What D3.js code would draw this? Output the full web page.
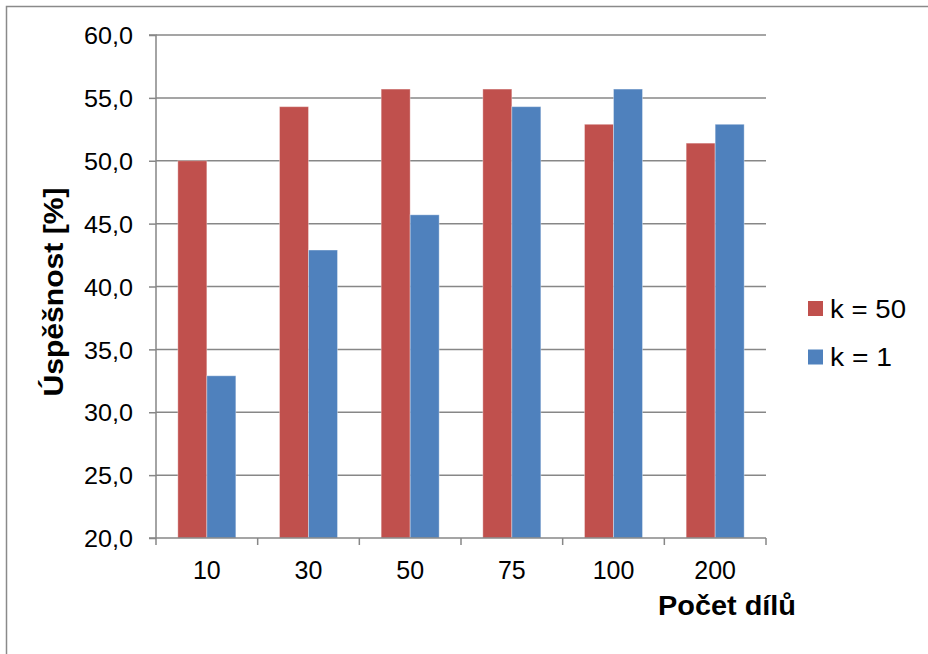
<!DOCTYPE html>
<html><head><meta charset="utf-8">
<script src="https://cdn.jsdelivr.net/npm/d3@7"></script>
<style>body{margin:0;background:#fff;} text{font-family:Arial,"Liberation Sans",sans-serif;fill:#000;}</style>
</head><body>
<script>
const categories = ["10","30","50","75","100","200"];
const seriesNames = ["k = 50","k = 1"];
const k50 = [50.0, 54.3, 55.7, 55.7, 52.9, 51.4];
const k1 = [32.9, 42.9, 45.7, 54.3, 55.7, 52.9];
const yTicks = [20,25,30,35,40,45,50,55,60];
const colors = ["#C0504D","#4F81BD"];
const seriesValues = [k50, k1];

const W=928,H=654;
const svg=d3.select("body").append("svg").attr("width",W).attr("height",H);
svg.append("rect").attr("width",W).attr("height",H).attr("fill","#fff");
svg.append("path").attr("d","M6.5,"+H+"V6.5H"+W).attr("fill","none").attr("stroke","#8a8a8a").attr("stroke-width",1.5);

const L=156,R=766,T=35,B=538;
const x=d3.scaleBand().domain(categories).range([L,R]).paddingInner(0).paddingOuter(0);
const xs=d3.scaleBand().domain(seriesNames).range([0,x.bandwidth()]).paddingInner(0).paddingOuter(0.753);
const y=d3.scaleLinear().domain([20,60]).range([B,T]);

svg.append("g").selectAll("line").data(yTicks.slice(1)).join("line")
  .attr("x1",L).attr("x2",R).attr("y1",d=>y(d)).attr("y2",d=>y(d))
  .attr("stroke","#878787").attr("stroke-width",1.5);

seriesNames.forEach((s,si)=>{
  svg.append("g").selectAll("rect").data(categories).join("rect")
    .attr("x",c=>x(c)+xs(s)).attr("width",xs.bandwidth())
    .attr("y",(c,i)=>y(seriesValues[si][i])).attr("height",(c,i)=>B-y(seriesValues[si][i]))
    .attr("fill",colors[si]).attr("stroke","rgba(255,255,255,0.35)").attr("stroke-width",1);
});

const yAx=svg.append("g").attr("transform",`translate(${L},0)`)
  .call(d3.axisLeft(y).tickValues(yTicks).tickSize(7).tickPadding(16).tickFormat(d=>d3.format(".1f")(d).replace(".",",")));
yAx.attr("font-size",null).attr("font-family",null);
yAx.select(".domain").attr("stroke","#878787").attr("stroke-width",1.5).attr("d",`M-7,${T}H0V${B}`);
yAx.selectAll(".tick line").attr("stroke","#878787").attr("stroke-width",1.5);
yAx.selectAll(".tick text").style("font-size","24px").attr("dy","0.36em").style("fill","#000")
  .attr("textLength",49).attr("lengthAdjust","spacingAndGlyphs");

const xAx=svg.append("g").attr("transform",`translate(0,${B})`);
xAx.append("line").attr("x1",L-7).attr("x2",R).attr("y1",0).attr("y2",0).attr("stroke","#878787").attr("stroke-width",1.5);
const bounds=categories.map(c=>x(c)).concat([R]);
xAx.selectAll("line.tk").data(bounds).join("line").attr("class","tk")
  .attr("x1",d=>d).attr("x2",d=>d).attr("y1",0).attr("y2",7).attr("stroke","#878787").attr("stroke-width",1.5);
xAx.selectAll("text").data(categories).join("text")
  .attr("x",c=>x(c)+x.bandwidth()/2).attr("y",41).attr("text-anchor","middle").style("font-size","25px")
  .text(c=>c);

svg.append("text").attr("x",727).attr("y",615).attr("text-anchor","middle").style("font-size","27px").attr("font-weight","bold")
  .attr("textLength",138).attr("lengthAdjust","spacingAndGlyphs").text("Počet dílů");
svg.append("text").attr("transform",`translate(63,292) rotate(-90)`).attr("text-anchor","middle").style("font-size","27px").attr("font-weight","bold")
  .attr("textLength",209).attr("lengthAdjust","spacingAndGlyphs").text("Úspěšnost [%]");

const lg=svg.append("g");
seriesNames.forEach((s,i)=>{
  const yy=301+i*48.5;
  lg.append("rect").attr("x",808).attr("y",yy).attr("width",15).attr("height",15).attr("fill",colors[i]);
  lg.append("text").attr("x",830).attr("y",yy+16.5).style("font-size","25px")
    .attr("textLength",s.length===6?76:62).attr("lengthAdjust","spacingAndGlyphs").text(s);
});
</script>
</body></html>
